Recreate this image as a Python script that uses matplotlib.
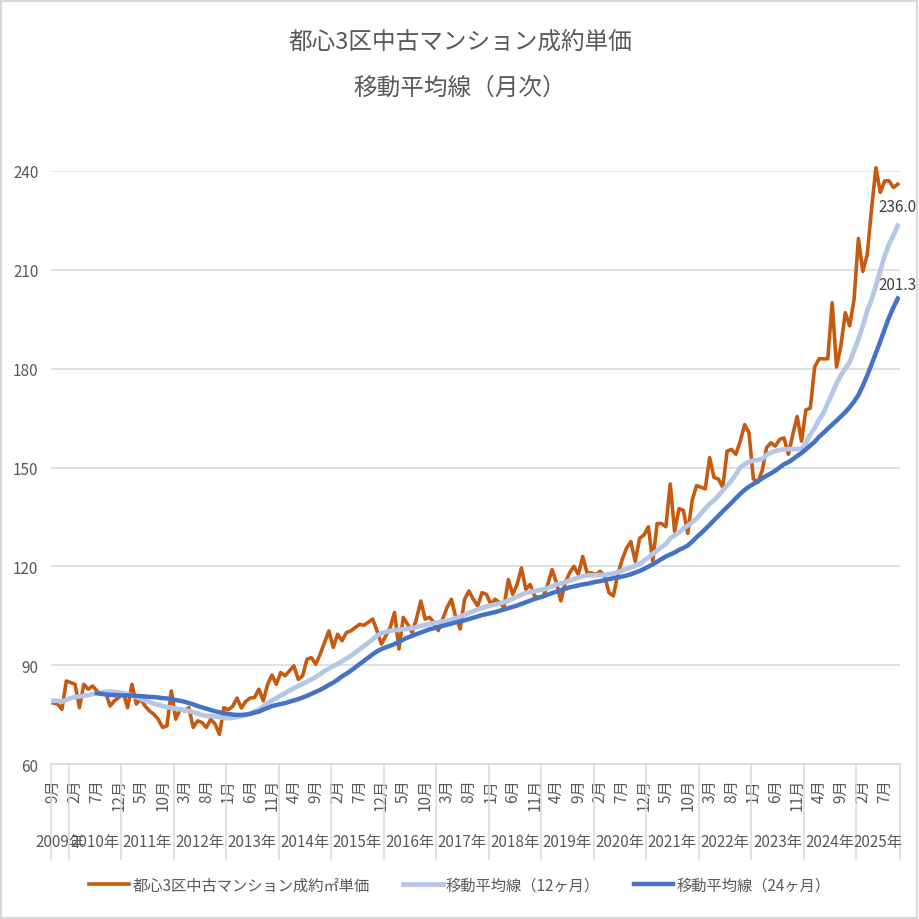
import numpy as np
import pandas as pd
import matplotlib
matplotlib.use('Agg')
import matplotlib.pyplot as plt
from matplotlib.patches import Rectangle
from matplotlib.transforms import blended_transform_factory

plt.rcParams['font.family'] = ['Noto Sans CJK JP', 'DejaVu Sans']

# categories: monthly, 2009-09 .. 2025-10
months = pd.date_range('2009-09-01', '2025-10-01', freq='MS')

# 都心3区中古マンション成約㎡単価
price = [
    78.5, 78.2, 76.6, 85.2,
    84.7, 84.2, 77.1, 84.2, 82.7, 83.7, 82.2, 81.2, 81.7, 77.6, 79.2, 80.2,
    81.7, 77.1, 84.2, 78.2, 79.7, 77.6, 76.1, 75.1, 73.6, 71.1, 71.6, 82.2,
    73.6, 76.6, 76.1, 77.1, 71.1, 73.1, 72.6, 71.1, 73.6, 72.1, 69.0, 77.1,
    76.5, 77.5, 80.0, 77.0, 79.0, 80.0, 80.2, 82.7, 79.2, 84.2, 87.0, 84.2,
    87.8, 86.8, 88.3, 89.8, 85.7, 86.8, 91.8, 92.3, 90.3, 93.3, 96.9, 100.4,
    95.4, 99.4, 97.4, 99.9, 100.4, 101.4, 102.4, 102.1, 103.0, 104.0, 100.4, 96.4,
    98.9, 101.4, 106.0, 94.9, 104.5, 102.4, 99.9, 104.0, 109.5, 104.0, 104.5, 103.0,
    100.5, 104.0, 107.5, 110.0, 104.5, 101.0, 110.0, 112.5, 110.0, 108.0, 112.0, 111.5,
    108.5, 110.0, 109.0, 107.5, 116.0, 111.5, 114.5, 119.5, 113.0, 114.5, 111.0, 110.5,
    111.0, 114.5, 119.0, 115.0, 109.5, 115.0, 118.0, 120.0, 117.5, 123.0, 118.0, 118.0,
    117.5, 118.5, 117.0, 112.0, 111.0, 117.5, 122.0, 125.5, 127.5, 121.5, 128.5, 129.5,
    132.0, 121.5, 133.0, 133.0, 132.0, 145.0, 130.5, 137.5, 137.0, 130.0, 140.0, 144.5,
    144.0, 143.5, 153.0, 147.0, 146.5, 144.0, 155.0, 155.5, 154.0, 158.0, 163.0, 160.5,
    146.5, 145.5, 149.0, 156.0, 157.5, 156.5, 158.5, 159.0, 154.0, 160.0, 165.5, 158.0,
    167.5, 168.0, 180.5, 183.0, 183.0, 183.0, 200.0, 180.5, 187.0, 197.0, 193.0, 201.0,
    219.5, 209.5, 214.5, 228.5, 241.0, 233.5, 237.0, 237.0, 235.0, 236.0,
]

# 移動平均線（12ヶ月）
ma12 = [
    79.2, 79.2, 78.9, 79.5,
    80.0, 80.3, 80.5, 80.7, 80.9, 81.2, 81.5, 81.7, 81.9, 82.0, 81.9, 81.7,
    81.5, 81.2, 80.8, 80.3, 79.8, 79.3, 78.8, 78.3, 78.0, 77.6, 77.3, 77.1,
    76.8, 76.6, 76.4, 76.1, 75.7, 75.3, 74.9, 74.6, 74.6, 74.4, 74.2, 74.0,
    73.9, 74.0, 74.3, 74.5, 74.8, 75.3, 76.0, 76.5, 77.5, 78.5, 79.3, 80.0,
    80.8, 81.5, 82.3, 83.0, 83.7, 84.3, 85.0, 85.7, 86.4, 87.3, 88.2, 89.0,
    89.7, 90.4, 91.2, 92.0, 92.8, 93.8, 94.8, 95.8, 96.8, 97.8, 99.0, 99.7,
    100.1, 100.4, 100.6, 100.8, 100.9, 101.0, 101.2, 101.5, 101.9, 102.2, 102.5, 102.8,
    103.0, 103.3, 103.5, 103.8, 104.3, 104.7, 105.3, 105.9, 106.4, 106.9, 107.4, 107.8,
    108.1, 108.4, 108.7, 109.1, 109.6, 110.2, 110.8, 111.4, 111.9, 112.2, 112.5, 112.8,
    113.0, 113.4, 113.9, 114.5, 114.8, 115.2, 115.7, 116.1, 116.6, 117.0, 117.2, 117.3,
    117.3, 117.4, 117.4, 117.6, 117.8, 118.2, 118.7, 119.2, 119.7, 120.2, 120.7, 121.7,
    122.7, 123.8, 124.8, 125.8, 126.8, 128.5, 129.4, 130.3, 131.5, 132.4, 133.3, 134.5,
    136.0, 137.5, 139.0, 140.0, 141.5, 143.0, 144.5, 146.0, 148.0, 150.0, 151.0, 151.7,
    152.1, 152.3, 152.6, 153.8, 154.5, 155.0, 155.3, 155.5, 155.6, 155.6, 155.6, 155.7,
    157.5, 160.0, 162.0, 164.5, 166.5, 169.5, 172.5, 175.5, 178.0, 180.0, 182.0, 185.5,
    189.0, 193.0, 197.5, 201.0, 205.2, 209.8, 214.2, 217.8, 220.5, 223.4,
]

# 移動平均線（24ヶ月） - starts 2010-07
ma24 = [None] * 10 + [
    81.5, 81.3, 81.1, 81.0, 80.9, 80.9,
    80.8, 80.8, 80.8, 80.7, 80.6, 80.5, 80.4, 80.3, 80.2, 80.0, 79.9, 79.7,
    79.4, 79.2, 78.9, 78.5, 78.1, 77.6, 77.2, 76.8, 76.4, 76.0, 75.7, 75.4,
    75.2, 75.0, 74.9, 74.9, 75.0, 75.2, 75.6, 75.9, 76.5, 77.0, 77.6, 77.9,
    78.2, 78.5, 78.9, 79.3, 79.7, 80.2, 80.7, 81.3, 81.9, 82.5, 83.2, 84.0,
    84.7, 85.6, 86.6, 87.4, 88.3, 89.3, 90.3, 91.3, 92.3, 93.3, 94.2, 94.9,
    95.4, 95.9, 96.4, 97.1, 97.8, 98.4, 98.9, 99.4, 99.9, 100.4, 100.9, 101.2,
    101.5, 101.9, 102.3, 102.6, 103.0, 103.3, 103.6, 104.0, 104.4, 104.8, 105.2, 105.5,
    105.8, 106.1, 106.5, 106.9, 107.3, 107.7, 108.1, 108.6, 109.1, 109.6, 110.1, 110.5,
    110.9, 111.4, 111.9, 112.3, 112.8, 113.2, 113.6, 113.9, 114.2, 114.5, 114.7, 115.0,
    115.3, 115.5, 115.8, 116.1, 116.4, 116.6, 116.9, 117.2, 117.6, 118.1, 118.6, 119.2,
    119.9, 120.6, 121.4, 122.2, 123.0, 123.6, 124.2, 125.0, 125.6, 126.3, 127.5, 128.8,
    130.0, 131.3, 132.6, 134.0, 135.3, 136.7, 138.0, 139.3, 140.7, 142.0, 143.2, 144.2,
    145.0, 145.8, 146.7, 147.5, 148.2, 149.0, 150.0, 151.0, 151.6, 152.5, 153.5, 154.4,
    155.5, 156.7, 157.8, 159.3, 160.5, 161.8, 163.0, 164.2, 165.5, 166.8, 168.3, 170.0,
    172.0, 174.8, 177.9, 181.3, 184.8, 188.3, 192.0, 195.6, 198.6, 201.3,
]

labels = ['都心3区中古マンション成約㎡単価', '移動平均線（12ヶ月）', '移動平均線（24ヶ月）']
colors = ['#C55A11', '#B4C7E7', '#4472C4']
gray = '#595959'
grid = '#D9D9D9'

x = np.arange(len(months))
s_price = np.array(price, dtype=float)
s_ma12 = np.array(ma12, dtype=float)
s_ma24 = np.array(ma24, dtype=float)

fig = plt.figure(figsize=(9.2, 9.2), dpi=100)
ax = fig.add_axes([51 / 920, 1 - 765 / 920, 849 / 920, 593 / 920])

l1, = ax.plot(x, s_price, color=colors[0], lw=2.6, solid_joinstyle='round', clip_on=False, zorder=3)
l2, = ax.plot(x, s_ma12, color=colors[1], lw=3.4, solid_joinstyle='round', zorder=4)
l3, = ax.plot(x, s_ma24, color=colors[2], lw=3.2, solid_joinstyle='round', zorder=5)

ax.set_xlim(-0.5, len(x) - 0.5)
ax.set_ylim(60, 240)
ax.set_yticks(range(60, 241, 30))
ax.grid(axis='y', color=grid, lw=1.1)
ax.set_axisbelow(True)
for side in ['top', 'right', 'left']:
    ax.spines[side].set_visible(False)
ax.spines['bottom'].set_color(grid)
ax.spines['bottom'].set_linewidth(1.1)
ax.tick_params(axis='y', length=0, pad=9, labelsize=11, labelcolor=gray)
ax.tick_params(axis='x', length=0, pad=10, labelsize=11, labelcolor=gray)

# month labels every 5 months
ax.set_xticks(x[::5])
ax.set_xticklabels([f'{m.month}月' for m in months[::5]], rotation=90, va='top', ha='center')

# year groups below the month labels
trans = blended_transform_factory(ax.transData, ax.transAxes)
years = sorted(set(months.year))
bounds = [-0.5]
for yr in years:
    idx = x[months.year == yr]
    bounds.append(idx[-1] + 0.5)
    ax.text((idx[0] + idx[-1]) / 2, -0.1315, f'{yr}年', transform=trans,
            ha='center', va='center', fontsize=11, color=gray)
for b in bounds:
    ax.plot([b, b], [0, -0.16], transform=trans, color=grid, lw=1.1, clip_on=False)

# data labels for the last values
ax.annotate(f'{s_price[-1]:.1f}', (x[-1], s_price[-1]), xytext=(0, -10), textcoords='offset points',
            ha='center', va='top', fontsize=11, color='#404040', annotation_clip=False)
ax.annotate(f'{s_ma24[-1]:.1f}', (x[-1], s_ma24[-1]), xytext=(0, 4), textcoords='offset points',
            ha='center', va='bottom', fontsize=11, color='#404040', annotation_clip=False)

fig.text(0.5, 1 - 42 / 920, '都心3区中古マンション成約単価', ha='center', va='center', fontsize=17, color=gray)
fig.text(0.5, 1 - 88 / 920, '移動平均線（月次）', ha='center', va='center', fontsize=17, color=gray)

fig.legend([l1, l2, l3], labels, loc='center', bbox_to_anchor=(0.5, 1 - 886 / 920), ncol=3,
           frameon=False, fontsize=11, handlelength=2.6, handletextpad=0.2, columnspacing=2.2,
           labelcolor=gray)

fig.patches.append(Rectangle((0.001, 0.001), 0.996, 0.997, transform=fig.transFigure,
                             fill=False, edgecolor=grid, lw=1.5))

fig.savefig('out.png', dpi=100)
